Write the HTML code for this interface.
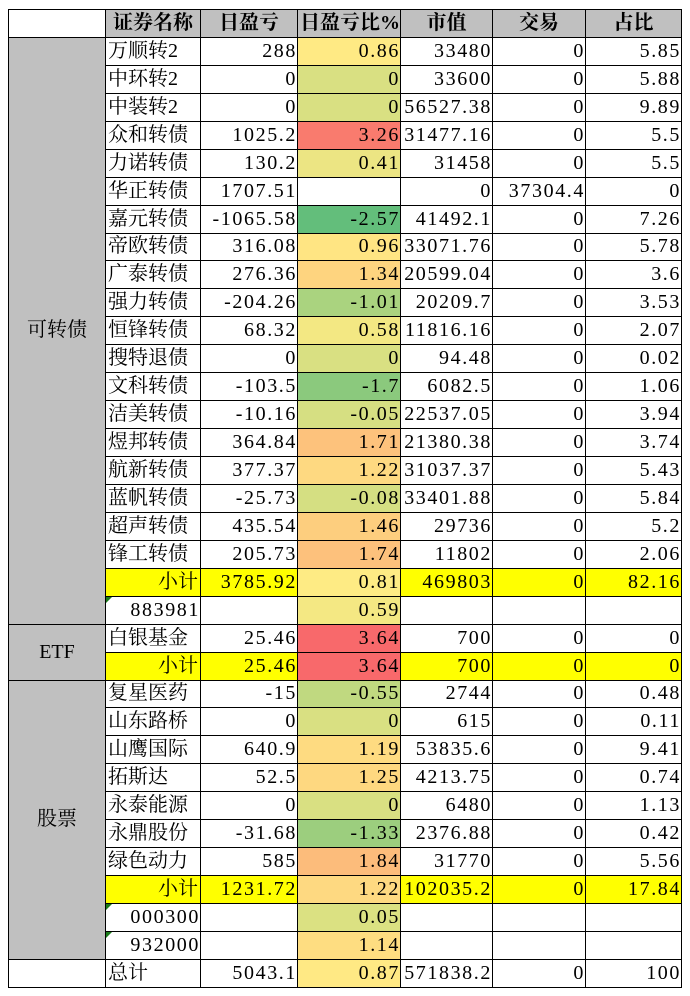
<!DOCTYPE html>
<html><head><meta charset="utf-8">
<style>
html,body{margin:0;padding:0;background:#fff;width:690px;height:996px;overflow:hidden}
body{font-family:"Liberation Serif","Noto Serif CJK SC",serif;color:#000;position:relative}
table{position:absolute;left:8px;top:9px;border-collapse:collapse;table-layout:fixed;width:673px;height:979px}
td{border:1px solid #000;padding:0 2px;font-size:20px;white-space:nowrap;overflow:hidden;line-height:25px;background:#fff}
td.n{text-align:right;letter-spacing:1.6px;padding-right:0}
td.s{text-align:right}
td.a{background:#c0c0c0;text-align:center}
tr.h td{background:#c0c0c0;font-weight:bold;text-align:center;letter-spacing:0}
tr.h td:first-child{background:#fff}
tr.y td{background:#ffff00}
tr.y td.a{background:#c0c0c0}
.tri{position:relative}
.tri:before{content:"";position:absolute;left:0;top:0;border-top:6px solid #1a7a1a;border-right:6px solid transparent}
</style></head><body>
<table id="t">
<colgroup><col style="width:97px"><col style="width:95px"><col style="width:97px"><col style="width:103px"><col style="width:92px"><col style="width:93px"><col style="width:96px"></colgroup>
<tr class="h"><td></td><td>证券名称</td><td>日盈亏</td><td>日盈亏比%</td><td>市值</td><td>交易</td><td>占比</td></tr>
<tr><td class="a" rowspan="21">可转债</td><td>万顺转2</td><td class="n">288</td><td class="n c">0.86</td><td class="n">33480</td><td class="n">0</td><td class="n">5.85</td></tr>
<tr><td>中环转2</td><td class="n">0</td><td class="n c">0</td><td class="n">33600</td><td class="n">0</td><td class="n">5.88</td></tr>
<tr><td>中装转2</td><td class="n">0</td><td class="n c">0</td><td class="n">56527.38</td><td class="n">0</td><td class="n">9.89</td></tr>
<tr><td>众和转债</td><td class="n">1025.2</td><td class="n c">3.26</td><td class="n">31477.16</td><td class="n">0</td><td class="n">5.5</td></tr>
<tr><td>力诺转债</td><td class="n">130.2</td><td class="n c">0.41</td><td class="n">31458</td><td class="n">0</td><td class="n">5.5</td></tr>
<tr><td>华正转债</td><td class="n">1707.51</td><td class="n"></td><td class="n">0</td><td class="n">37304.4</td><td class="n">0</td></tr>
<tr><td>嘉元转债</td><td class="n">-1065.58</td><td class="n c">-2.57</td><td class="n">41492.1</td><td class="n">0</td><td class="n">7.26</td></tr>
<tr><td>帝欧转债</td><td class="n">316.08</td><td class="n c">0.96</td><td class="n">33071.76</td><td class="n">0</td><td class="n">5.78</td></tr>
<tr><td>广泰转债</td><td class="n">276.36</td><td class="n c">1.34</td><td class="n">20599.04</td><td class="n">0</td><td class="n">3.6</td></tr>
<tr><td>强力转债</td><td class="n">-204.26</td><td class="n c">-1.01</td><td class="n">20209.7</td><td class="n">0</td><td class="n">3.53</td></tr>
<tr><td>恒锋转债</td><td class="n">68.32</td><td class="n c">0.58</td><td class="n">11816.16</td><td class="n">0</td><td class="n">2.07</td></tr>
<tr><td>搜特退债</td><td class="n">0</td><td class="n c">0</td><td class="n">94.48</td><td class="n">0</td><td class="n">0.02</td></tr>
<tr><td>文科转债</td><td class="n">-103.5</td><td class="n c">-1.7</td><td class="n">6082.5</td><td class="n">0</td><td class="n">1.06</td></tr>
<tr><td>洁美转债</td><td class="n">-10.16</td><td class="n c">-0.05</td><td class="n">22537.05</td><td class="n">0</td><td class="n">3.94</td></tr>
<tr><td>煜邦转债</td><td class="n">364.84</td><td class="n c">1.71</td><td class="n">21380.38</td><td class="n">0</td><td class="n">3.74</td></tr>
<tr><td>航新转债</td><td class="n">377.37</td><td class="n c">1.22</td><td class="n">31037.37</td><td class="n">0</td><td class="n">5.43</td></tr>
<tr><td>蓝帆转债</td><td class="n">-25.73</td><td class="n c">-0.08</td><td class="n">33401.88</td><td class="n">0</td><td class="n">5.84</td></tr>
<tr><td>超声转债</td><td class="n">435.54</td><td class="n c">1.46</td><td class="n">29736</td><td class="n">0</td><td class="n">5.2</td></tr>
<tr><td>锋工转债</td><td class="n">205.73</td><td class="n c">1.74</td><td class="n">11802</td><td class="n">0</td><td class="n">2.06</td></tr>
<tr class="y"><td class="s">小计</td><td class="n">3785.92</td><td class="n c">0.81</td><td class="n">469803</td><td class="n">0</td><td class="n">82.16</td></tr>
<tr><td class="n tri">883981</td><td></td><td class="n c">0.59</td><td></td><td></td><td></td></tr>
<tr><td class="a" rowspan="2">ETF</td><td>白银基金</td><td class="n">25.46</td><td class="n c">3.64</td><td class="n">700</td><td class="n">0</td><td class="n">0</td></tr>
<tr class="y"><td class="s">小计</td><td class="n">25.46</td><td class="n c">3.64</td><td class="n">700</td><td class="n">0</td><td class="n">0</td></tr>
<tr><td class="a" rowspan="10">股票</td><td>复星医药</td><td class="n">-15</td><td class="n c">-0.55</td><td class="n">2744</td><td class="n">0</td><td class="n">0.48</td></tr>
<tr><td>山东路桥</td><td class="n">0</td><td class="n c">0</td><td class="n">615</td><td class="n">0</td><td class="n">0.11</td></tr>
<tr><td>山鹰国际</td><td class="n">640.9</td><td class="n c">1.19</td><td class="n">53835.6</td><td class="n">0</td><td class="n">9.41</td></tr>
<tr><td>拓斯达</td><td class="n">52.5</td><td class="n c">1.25</td><td class="n">4213.75</td><td class="n">0</td><td class="n">0.74</td></tr>
<tr><td>永泰能源</td><td class="n">0</td><td class="n c">0</td><td class="n">6480</td><td class="n">0</td><td class="n">1.13</td></tr>
<tr><td>永鼎股份</td><td class="n">-31.68</td><td class="n c">-1.33</td><td class="n">2376.88</td><td class="n">0</td><td class="n">0.42</td></tr>
<tr><td>绿色动力</td><td class="n">585</td><td class="n c">1.84</td><td class="n">31770</td><td class="n">0</td><td class="n">5.56</td></tr>
<tr class="y"><td class="s">小计</td><td class="n">1231.72</td><td class="n c">1.22</td><td class="n">102035.2</td><td class="n">0</td><td class="n">17.84</td></tr>
<tr><td class="n tri">000300</td><td></td><td class="n c">0.05</td><td></td><td></td><td></td></tr>
<tr><td class="n tri">932000</td><td></td><td class="n c">1.14</td><td></td><td></td><td></td></tr>
<tr><td></td><td>总计</td><td class="n">5043.1</td><td class="n c">0.87</td><td class="n">571838.2</td><td class="n">0</td><td class="n">100</td></tr>
</table>
<script>
(function(){
var lo=-2.57,mid=0.835,hi=3.64;
var G=[99,190,123],Y=[255,235,132],R=[248,105,107];
function mix(a,b,t){return 'rgb('+a.map(function(v,i){return Math.round(v+(b[i]-v)*t)}).join(',')+')';}
var cs=document.querySelectorAll('td.c');
for(var i=0;i<cs.length;i++){
var v=parseFloat(cs[i].textContent);
var c=v<=mid?mix(G,Y,(v-lo)/(mid-lo)):mix(Y,R,(v-mid)/(hi-mid));
cs[i].style.background=c;}
})();
</script>
</body></html>
